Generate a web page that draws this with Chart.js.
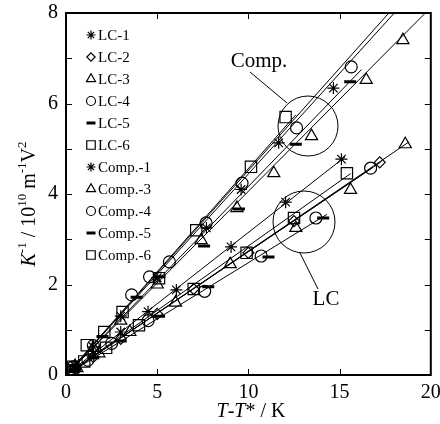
<!DOCTYPE html>
<html>
<head>
<meta charset="utf-8">
<script src="https://cdn.jsdelivr.net/npm/chart.js@4.4.0/dist/chart.umd.min.js"></script>
<style>
html, body { margin: 0; padding: 0; background: #fff; }
</style>
</head>
<body>
<canvas id="chart" width="440" height="424"></canvas>
<script>
// series names and marker styles
const names = ['LC-1', 'LC-2', 'LC-3', 'LC-4', 'LC-5', 'LC-6', 'Comp.-1', 'Comp.-3', 'Comp.-4', 'Comp.-5', 'Comp.-6'];
const markers = ['star', 'rectRot', 'triangle', 'circle', 'line', 'rect', 'star', 'triangle', 'circle', 'line', 'rect'];
const markerSize = [6, 5.5, 7, 6, 6, 8, 6, 7, 6, 6, 8];

// measured points (T-T* in K, K^-1 in 1e10 m^-1 V^2)
const xLC1 = [0.5, 1.5, 3.0, 4.5, 6.05, 9.05, 12.04, 15.1];
const yLC1 = [0.15, 0.47, 0.95, 1.4, 1.88, 2.83, 3.82, 4.77];
const xLC2 = [0.5, 1.5, 3.0, 5.0, 7.0, 10.0, 12.5, 17.2];
const yLC2 = [0.14, 0.4, 0.8, 1.35, 1.9, 2.7, 3.4, 4.7];
const xLC3 = [0.6, 1.8, 3.5, 6.0, 9.0, 12.6, 15.6, 18.6];
const yLC3 = [0.15, 0.48, 0.95, 1.6, 2.45, 3.25, 4.09, 5.1];
const xLC4 = [0.4, 1.2, 2.5, 4.5, 7.6, 10.7, 13.7, 16.7];
const yLC4 = [0.1, 0.33, 0.7, 1.2, 1.85, 2.63, 3.47, 4.57];
const xLC5 = [0.5, 1.5, 3.0, 5.1, 7.8, 11.1, 14.1];
const yLC5 = [0.12, 0.38, 0.75, 1.3, 1.95, 2.61, 3.47];
const xLC6 = [0.3, 1.0, 2.2, 4.0, 7.0, 9.9, 12.5, 15.4];
const yLC6 = [0.1, 0.3, 0.6, 1.1, 1.9, 2.7, 3.47, 4.46];
const xComp1 = [0.5, 1.5, 3.0, 5.0, 7.7, 9.6, 11.66, 14.66];
const yComp1 = [0.2, 0.62, 1.3, 2.15, 3.25, 4.1, 5.13, 6.34];
const xComp3 = [0.5, 1.5, 3.0, 5.0, 7.41, 9.37, 11.39, 13.46, 16.46, 18.47];
const yComp3 = [0.2, 0.6, 1.2, 2.0, 2.98, 3.69, 4.46, 5.28, 6.52, 7.4];
const xComp4 = [0.4, 1.5, 3.6, 4.58, 5.67, 7.68, 9.65, 12.64, 15.64];
const yComp4 = [0.18, 0.65, 1.77, 2.17, 2.5, 3.36, 4.24, 5.46, 6.81];
const xComp5 = [0.5, 2.0, 3.87, 5.12, 7.57, 9.48, 12.6, 15.58];
const yComp5 = [0.2, 0.85, 1.72, 2.17, 2.85, 3.67, 5.1, 6.48];
const xComp6 = [0.4, 1.14, 2.1, 3.1, 5.1, 7.14, 10.14, 12.04];
const yComp6 = [0.18, 0.66, 0.95, 1.39, 2.14, 3.2, 4.6, 5.7];

// fitted straight lines, all from the origin to these end points
const fitEndX = [15.3, 17.3, 18.8, 16.8, 14.3, 15.6, 17.7, 19.7, 18.0, 16.2, 12.6];
const fitEndY = [4.82, 4.72, 5.15, 4.58, 3.55, 4.45, 8.0, 8.0, 8.0, 6.75, 5.75];

// axis ticks
const xTickValues = [0, 5, 10, 15, 20];
const yTickValues = [0, 2, 4, 6, 8];

const allX = [xLC1, xLC2, xLC3, xLC4, xLC5, xLC6, xComp1, xComp3, xComp4, xComp5, xComp6];
const allY = [yLC1, yLC2, yLC3, yLC4, yLC5, yLC6, yComp1, yComp3, yComp4, yComp5, yComp6];

const serif = '"Liberation Serif", "DejaVu Serif", serif';

function toPoints(xs, ys)
{
    let pts = [];
    for (let i = 0; i < xs.length; i++)
        pts.push({ x: xs[i], y: ys[i] });
    return pts;
}

let datasets = [];
for (let i = 0; i < names.length; i++)
{
    datasets.push({
        label: names[i] + ' fit',
        data: [{ x: 0, y: 0 }, { x: fitEndX[i], y: fitEndY[i] }],
        showLine: true,
        borderColor: '#000',
        borderWidth: 1,
        pointRadius: 0,
        fill: false
    });
}
for (let i = 0; i < names.length; i++)
{
    const isDash = markers[i] === 'line';
    datasets.push({
        label: names[i],
        data: toPoints(allX[i], allY[i]),
        showLine: false,
        pointStyle: markers[i],
        pointRadius: markerSize[i],
        pointBorderWidth: isDash ? 3 : 1.2,
        borderColor: '#000',
        backgroundColor: 'rgba(0,0,0,0)'
    });
}

function drawRich(ctx, parts, cx, cy, rotate)
{
    // parts: [text, font, baselineShift]
    let total = 0;
    for (const p of parts) { ctx.font = p[1]; total += ctx.measureText(p[0]).width; }
    ctx.save();
    ctx.translate(cx, cy);
    if (rotate) ctx.rotate(-Math.PI / 2);
    ctx.textBaseline = 'middle';
    ctx.textAlign = 'left';
    let x = -total / 2;
    for (const p of parts)
    {
        ctx.font = p[1];
        ctx.fillText(p[0], x, p[2]);
        x += ctx.measureText(p[0]).width;
    }
    ctx.restore();
}

const decorations = {
    id: 'decorations',
    afterDraw(chart)
    {
        const ctx = chart.ctx;
        const a = chart.chartArea;
        const xs = chart.scales.x, ys = chart.scales.y;
        ctx.save();
        ctx.strokeStyle = '#000';
        ctx.fillStyle = '#000';

        // frame
        ctx.lineWidth = 2;
        ctx.strokeRect(a.left, a.top, a.right - a.left, a.bottom - a.top);

        // inward ticks
        ctx.lineWidth = 1;
        ctx.beginPath();
        for (let v = 1; v < 8; v++)
        {
            const py = Math.round(ys.getPixelForValue(v)) + 0.5;
            ctx.moveTo(a.left, py); ctx.lineTo(a.left + 6, py);
            ctx.moveTo(a.right, py); ctx.lineTo(a.right - 6, py);
        }
        for (let v = 5; v < 20; v += 5)
        {
            const px = Math.round(xs.getPixelForValue(v)) + 0.5;
            ctx.moveTo(px, a.bottom); ctx.lineTo(px, a.bottom - 6);
            ctx.moveTo(px, a.top); ctx.lineTo(px, a.top + 6);
        }
        ctx.stroke();

        // annotation circles and leaders
        ctx.beginPath();
        ctx.arc(308, 126, 30, 0, Math.PI * 2);
        ctx.stroke();
        ctx.beginPath();
        ctx.arc(304, 222, 31, 0, Math.PI * 2);
        ctx.stroke();
        ctx.beginPath();
        ctx.moveTo(250, 72); ctx.lineTo(287, 103);
        ctx.moveTo(300, 253); ctx.lineTo(318, 289);
        ctx.stroke();

        ctx.font = '21px ' + serif;
        ctx.textAlign = 'center';
        ctx.textBaseline = 'middle';
        ctx.fillText('Comp.', 259, 61);
        ctx.fillText('LC', 326, 299);

        // legend
        ctx.font = '15px ' + serif;
        ctx.textAlign = 'left';
        for (let i = 0; i < names.length; i++)
        {
            const ly = 35 + i * 22;
            const isDash = markers[i] === 'line';
            ctx.lineWidth = isDash ? 3 : 1.2;
            ctx.fillStyle = 'rgba(0,0,0,0)';
            Chart.helpers.drawPoint(ctx, { pointStyle: markers[i], radius: markerSize[i] * 0.75, rotation: 0, borderWidth: ctx.lineWidth }, 91, ly);
            ctx.fillStyle = '#000';
            ctx.fillText(names[i], 98, ly + 1);
        }

        // axis titles
        const big = '20px ' + serif, ital = 'italic 20px ' + serif, sup = '13px ' + serif;
        drawRich(ctx, [
            ['K', ital, 0], ['-1', sup, -7], [' / 10', big, 0], ['10', sup, -7],
            [' m', big, 0], ['-1', sup, -7], ['V', big, 0], ['2', sup, -7]
        ], 30, 204, true);
        drawRich(ctx, [
            ['T', ital, 0], ['-', big, 0], ['T', ital, 0], ['* / K', big, 0]
        ], 251, 412, false);

        ctx.restore();
    }
};

const chart = new Chart(document.getElementById('chart').getContext('2d'), {
    type: 'scatter',
    data: { datasets: datasets },
    plugins: [decorations],
    options: {
        responsive: false,
        animation: false,
        events: [],
        layout: { padding: { top: 13, right: 7, left: 0, bottom: 0 } },
        plugins: { legend: { display: false }, tooltip: { enabled: false } },
        scales: {
            x: {
                type: 'linear',
                min: 0, max: 20,
                afterFit: function (s) { s.height = 49; s.paddingLeft = 0; s.paddingRight = 0; },
                afterBuildTicks: function (s) { s.ticks = xTickValues.map(v => ({ value: v })); },
                grid: { display: true, drawOnChartArea: false, drawTicks: false },
                border: { display: false },
                ticks: { color: '#000', padding: 6, maxRotation: 0, font: { family: serif, size: 20 } }
            },
            y: {
                type: 'linear',
                min: 0, max: 8,
                afterFit: function (s) { s.width = 66; s.paddingTop = 0; s.paddingBottom = 0; },
                afterBuildTicks: function (s) { s.ticks = yTickValues.map(v => ({ value: v })); },
                grid: { display: true, drawOnChartArea: false, drawTicks: false },
                border: { display: false },
                ticks: { color: '#000', padding: 8, font: { family: serif, size: 20 } }
            }
        }
    }
});
</script>
</body>
</html>
